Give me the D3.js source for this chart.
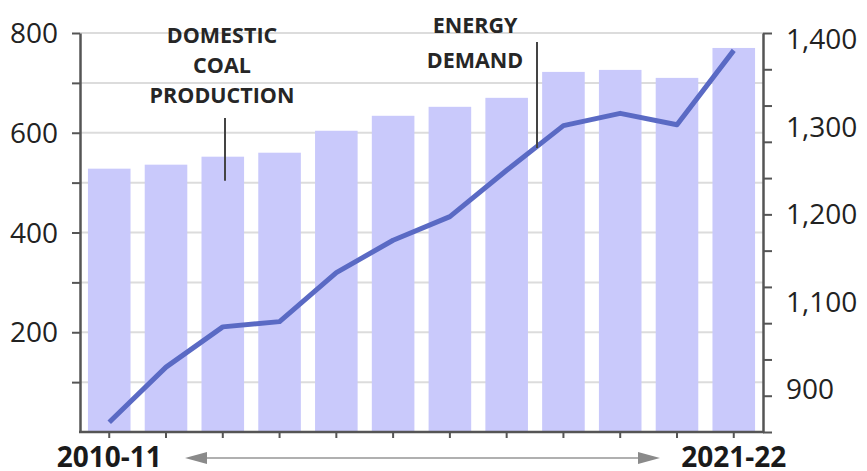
<!DOCTYPE html>
<html>
<head>
<meta charset="utf-8">
<script src="https://cdn.jsdelivr.net/npm/d3@7"></script>
<style>
  html, body { margin: 0; padding: 0; background: #fff; }
  svg { display: block; }
  text { font-family: "Open Sans", sans-serif; }
</style>
</head>
<body>
<svg id="chart" width="867" height="471"></svg>
<script>
// ---- data ----
const years = ["2010-11","2011-12","2012-13","2013-14","2014-15","2015-16","2016-17","2017-18","2018-19","2019-20","2020-21","2021-22"];
const coalProduction = [528, 536, 552, 560, 604, 634, 652, 670, 722, 726, 710, 770];
const energyDemand = [962, 1025, 1071, 1077, 1133, 1170, 1197, 1250, 1301, 1315, 1302, 1387];
const leftTicks = [100, 200, 300, 400, 500, 600, 700, 800];
const leftTickLabels = ["200", "400", "600", "800"];
const rightTickLabels = ["1,400", "1,300", "1,200", "1,100", "900"];
const rightMinorTicks = [0,1,2,3,4,5,6,7,8,9,10,11];
const xEndLabels = ["2010-11", "2021-22"];
const coalLabel = ["DOMESTIC", "COAL", "PRODUCTION"];
const energyLabel = ["ENERGY", "DEMAND"];

// ---- layout ----
const svg = d3.select("#chart");
const mLeft = 80, mRight = 763, mTop = 33, mBottom = 432;

const x = d3.scaleBand().domain(years).range([mLeft, mRight]).paddingInner(0.25).paddingOuter(0.14);
const yL = d3.scaleLinear().domain([0, 800]).range([mBottom, mTop]);
const yR = d3.scaleLinear().domain([1100, 1400]).range([301.5, 39]);
const yRLabel = d3.scalePoint().domain(rightTickLabels).range([39, 389]);
const yRTick = d3.scaleLinear().domain([0, 11]).range([mBottom, mTop]);

const axisColor = "#555";

// gridlines
svg.append("g").selectAll("line").data(leftTicks).join("line")
  .attr("x1", mLeft).attr("x2", mRight)
  .attr("y1", d => yL(d)).attr("y2", d => yL(d))
  .attr("stroke", "#dcdcdc").attr("stroke-width", 2);

// bars
svg.append("g").selectAll("rect").data(years).join("rect")
  .attr("x", d => x(d))
  .attr("width", x.bandwidth())
  .attr("y", (d, i) => yL(coalProduction[i]))
  .attr("height", (d, i) => mBottom - yL(coalProduction[i]))
  .attr("fill", "#c9c9fb");

// energy line
const line = d3.line()
  .x((d, i) => x(years[i]) + x.bandwidth() / 2)
  .y(d => yR(d));
svg.append("path").datum(energyDemand)
  .attr("d", line)
  .attr("fill", "none")
  .attr("stroke", "#5a6ac4")
  .attr("stroke-width", 5)
  .attr("stroke-linejoin", "round")
  .attr("stroke-linecap", "butt");

// left axis
const gL = svg.append("g").attr("transform", `translate(${mLeft},0)`)
  .call(d3.axisLeft(yL).tickValues(leftTicks).tickSize(8).tickSizeOuter(0).tickFormat(""));
gL.select(".domain").attr("stroke", axisColor).attr("stroke-width", 2.5);
gL.selectAll(".tick line").attr("stroke", axisColor).attr("stroke-width", 2);
svg.append("g").selectAll("text").data(leftTickLabels).join("text")
  .attr("x", 58).attr("y", d => yL(+d))
  .attr("dy", "0.36em")
  .attr("text-anchor", "end")
  .attr("font-size", 28)
  .attr("fill", "#222")
  .text(d => d);

// right axis
const gR = svg.append("g").attr("transform", `translate(${mRight},0)`)
  .call(d3.axisRight(yRTick).tickValues(rightMinorTicks).tickSize(9).tickSizeOuter(0).tickFormat(""));
gR.select(".domain").attr("stroke", axisColor).attr("stroke-width", 2.5);
gR.selectAll(".tick line").attr("stroke", axisColor).attr("stroke-width", 2);
svg.append("g").selectAll("text").data(rightTickLabels).join("text")
  .attr("x", 786).attr("y", d => yRLabel(d))
  .attr("dy", "0.36em")
  .attr("text-anchor", "start")
  .attr("font-size", 28)
  .attr("fill", "#222")
  .text(d => d);

// bottom axis
const gB = svg.append("g").attr("transform", `translate(0,${mBottom})`)
  .call(d3.axisBottom(x).tickSize(6).tickSizeOuter(0).tickFormat(""));
gB.select(".domain").attr("stroke", axisColor).attr("stroke-width", 2.5)
  .attr("d", `M${mLeft - 1},0H${mRight + 1}`);
gB.selectAll(".tick line").attr("stroke", axisColor).attr("stroke-width", 2);

// end labels
svg.append("g").selectAll("text").data(xEndLabels).join("text")
  .attr("x", d => x(d) + x.bandwidth() / 2)
  .attr("y", 467)
  .attr("text-anchor", "middle")
  .attr("font-size", 28)
  .attr("font-weight", "bold")
  .attr("fill", "#1a1a1a")
  .text(d => d);

// time arrow
const arrowY = 458;
const arrowX0 = 185, arrowX1 = 660;
svg.append("line")
  .attr("x1", arrowX0 + 10).attr("x2", arrowX1 - 10)
  .attr("y1", arrowY).attr("y2", arrowY)
  .attr("stroke", "#b0b0b0").attr("stroke-width", 2);
svg.append("path")
  .attr("d", `M${arrowX0},${arrowY} L${arrowX0 + 22},${arrowY - 6} L${arrowX0 + 22},${arrowY + 6} Z`)
  .attr("fill", "#8a8a8a");
svg.append("path")
  .attr("d", `M${arrowX1},${arrowY} L${arrowX1 - 22},${arrowY - 6} L${arrowX1 - 22},${arrowY + 6} Z`)
  .attr("fill", "#8a8a8a");

// annotations
const ann = svg.append("g").attr("font-weight", "bold").attr("fill", "#262626").attr("font-size", 21.5);
ann.selectAll("text.coal").data(coalLabel).join("text")
  .attr("class", "coal")
  .attr("x", 222).attr("y", (d, i) => 43 + i * 30)
  .attr("text-anchor", "middle")
  .text(d => d);
ann.selectAll("text.energy").data(energyLabel).join("text")
  .attr("class", "energy")
  .attr("x", 475).attr("y", (d, i) => 33 + i * 35)
  .attr("text-anchor", "middle")
  .text(d => d);

// leader lines
svg.append("line")
  .attr("x1", 225).attr("x2", 225).attr("y1", 118).attr("y2", yL(coalProduction[2]) + 24)
  .attr("stroke", "#444").attr("stroke-width", 2);
svg.append("line")
  .attr("x1", 537).attr("x2", 537).attr("y1", 42).attr("y2", 148)
  .attr("stroke", "#444").attr("stroke-width", 2);
</script>
</body>
</html>
